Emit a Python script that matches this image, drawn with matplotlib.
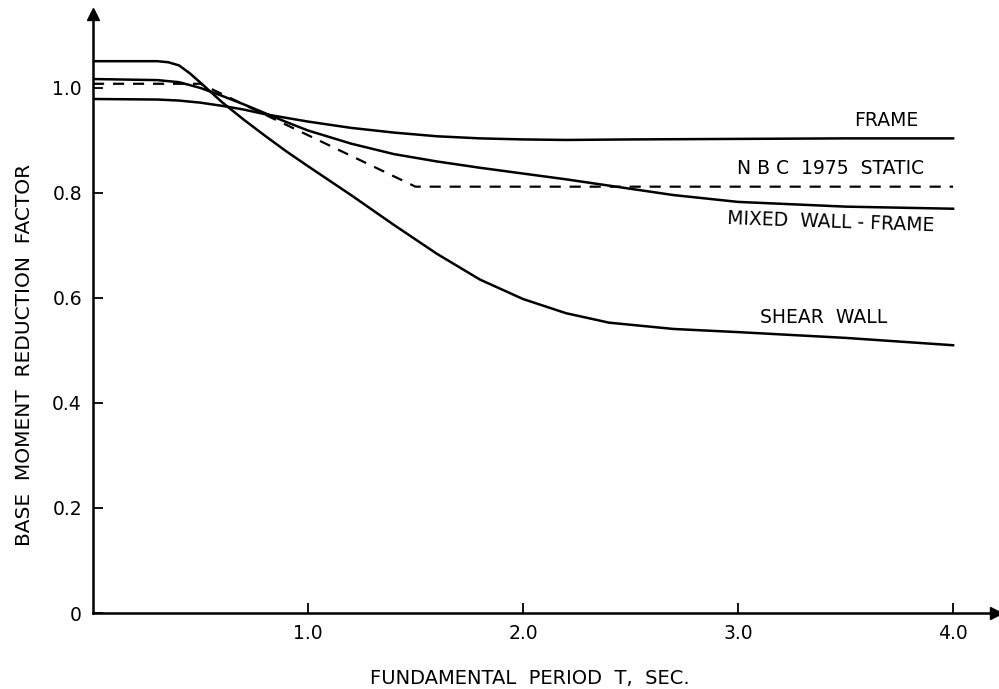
import matplotlib
matplotlib.use("Agg")
import matplotlib.pyplot as plt

# Data
frame_T = [0.0, 0.3, 0.4, 0.5, 0.6, 0.7, 0.8, 0.9, 1.0, 1.2, 1.4, 1.6, 1.8, 2.0, 2.2, 2.5, 3.0, 3.5, 4.0]
frame_v = [0.979, 0.978, 0.976, 0.972, 0.966, 0.959, 0.950, 0.943, 0.936, 0.924, 0.915, 0.908, 0.904, 0.902, 0.901, 0.902, 0.903, 0.904, 0.904]

mixed_T = [0.0, 0.3, 0.4, 0.5, 0.6, 0.7, 0.8, 0.9, 1.0, 1.2, 1.4, 1.6, 1.8, 2.0, 2.2, 2.4, 2.7, 3.0, 3.5, 4.0]
mixed_v = [1.017, 1.015, 1.011, 1.0, 0.985, 0.969, 0.952, 0.935, 0.919, 0.894, 0.874, 0.860, 0.848, 0.837, 0.826, 0.814, 0.796, 0.783, 0.774, 0.770]

nbc_T = [0.0, 0.5, 1.5, 4.0]
nbc_v = [1.008, 1.008, 0.812, 0.812]

shear_T = [0.0, 0.3, 0.35, 0.4, 0.45, 0.5, 0.6, 0.7, 0.8, 0.9, 1.0, 1.2, 1.4, 1.6, 1.8, 2.0, 2.2, 2.4, 2.7, 3.0, 3.5, 4.0]
shear_v = [1.051, 1.051, 1.049, 1.043, 1.028, 1.010, 0.973, 0.940, 0.909, 0.879, 0.851, 0.796, 0.739, 0.684, 0.635, 0.598, 0.571, 0.553, 0.541, 0.535, 0.524, 0.510]

x_ticks = [1.0, 2.0, 3.0, 4.0]
x_tick_labels = ["1.0", "2.0", "3.0", "4.0"]
y_ticks = [0.0, 0.2, 0.4, 0.6, 0.8, 1.0]
y_tick_labels = ["0", "0.2", "0.4", "0.6", "0.8", "1.0"]

fs = 13.5
fig = plt.figure(figsize=(9.99, 6.89), dpi=100)
ax = fig.add_axes([0.0931, 0.1103, 0.904, 0.8687])
ax.set_xlim(0, 4.2)
ax.set_ylim(0, 1.14)

lw = 1.8
ax.plot(frame_T, frame_v, color="black", lw=lw, solid_joinstyle="round")
ax.plot(mixed_T, mixed_v, color="black", lw=lw, solid_joinstyle="round")
ax.plot(shear_T, shear_v, color="black", lw=lw, solid_joinstyle="round")
ax.plot(nbc_T, nbc_v, color="black", lw=1.6, linestyle=(0, (5, 4)))

for s in ["top", "right"]:
    ax.spines[s].set_visible(False)
for s in ["left", "bottom"]:
    ax.spines[s].set_linewidth(1.8)

ax.plot(1, 0, ">k", transform=ax.transAxes, clip_on=False, markersize=8)
ax.plot(0, 1, "^k", transform=ax.transAxes, clip_on=False, markersize=8)

ax.set_xticks(x_ticks)
ax.set_xticklabels(x_tick_labels, fontsize=fs)
ax.set_yticks(y_ticks)
ax.set_yticklabels(y_tick_labels, fontsize=fs)
ax.tick_params(axis="both", direction="in", length=7, width=1.3, pad=8)

ax.text(3.69, 0.939, "FRAME", fontsize=fs, ha="center", va="center")
ax.text(3.43, 0.846, "N B C  1975  STATIC", fontsize=fs, ha="center", va="center")
ax.text(3.43, 0.745, "MIXED  WALL - FRAME", fontsize=fs, ha="center", va="center", rotation=-2)
ax.text(3.40, 0.562, "SHEAR  WALL", fontsize=fs, ha="center", va="center")

fig.text(530 / 999, 1 - 678 / 689, "FUNDAMENTAL  PERIOD  T,  SEC.", fontsize=14,
         ha="center", va="center")
fig.text(25 / 999, 1 - 355 / 689, "BASE  MOMENT  REDUCTION  FACTOR", fontsize=14.5,
         ha="center", va="center", rotation=90)

fig.savefig("out.png", dpi=100)
